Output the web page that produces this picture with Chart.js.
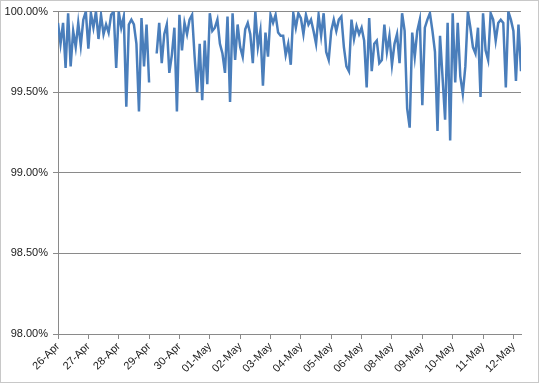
<!DOCTYPE html>
<html>
<head>
<meta charset="utf-8">
<script src="https://cdn.jsdelivr.net/npm/chart.js@4.4.1/dist/chart.umd.min.js"></script>
<style>
  html, body { margin: 0; padding: 0; background: #ffffff; }
  #c { display: block; }
</style>
</head>
<body>
<canvas id="c" width="540" height="385"></canvas>
<script>
// Tick labels (one per day; 07-May is absent in the source)
const dayLabels = ['26-Apr','27-Apr','28-Apr','29-Apr','30-Apr','01-May','02-May','03-May',
                   '04-May','05-May','06-May','08-May','09-May','10-May','11-May','12-May'];
const pointsPerDay = 12;

// Availability (%) readings, in order; null = no data
const availability = [
  99.93, 99.80, 99.93, 99.65, 99.99, 99.66, 99.88, 99.78, 99.93, 99.79, 99.95, 100.0,
  99.77, 99.99, 99.90, 100.0, 99.83, 99.98, 99.86, 99.92, 99.87, 99.98, 100.0, 99.65,
  100.0, 99.90, 99.97, 99.41, 99.92, 99.95, 99.92, 99.80, 99.38, 99.96, 99.66, 99.92,
  99.56, null, null, 99.74, 99.93, 99.68, 99.86, 99.92, 99.62, 99.73, 99.90, 99.38,
  99.98, 99.76, 99.93, 99.86, 99.95, 99.98, 99.72, 99.50, 99.80, 99.45, 99.82, 99.55,
  99.99, 99.88, 99.90, 99.95, 99.80, 99.74, 99.62, 99.97, 99.44, 99.99, 99.70, 99.92,
  99.78, 99.72, 99.89, 99.93, 99.86, 99.68, 100.0, 99.78, 99.88, 99.54, 99.87, 99.72,
  99.98, 99.93, 99.98, 99.87, 99.85, 99.85, 99.73, 99.80, 99.67, 99.99, 99.90, 99.99,
  99.96, 99.86, 99.98, 99.92, 99.95, 99.88, 99.80, 99.98, 99.85, 99.99, 99.75, 99.70,
  99.88, 99.95, 99.88, 99.95, 99.97, 99.78, 99.66, 99.63, 99.95, 99.83, 99.91, 99.86,
  99.90, 99.82, 99.53, 99.96, 99.63, 99.80, 99.82, 99.68, 99.70, 99.92, 99.75, 99.85,
  99.67, 99.80, 99.86, 99.68, 99.99, 99.88, 99.40, 99.28, 99.87, 99.72, 99.88, 99.95,
  99.42, 99.90, 99.95, 99.99, 99.88, 99.75, 99.26, 99.85, 99.59, 99.33, 99.93, 99.20,
  99.99, 99.56, 99.93, 99.60, 99.49, 99.66, 100.0, 99.90, 99.78, 99.74, 99.90, 99.47,
  99.99, 99.76, 99.70, 99.99, 99.95, 99.82, 99.93, 99.95, 99.93, 99.53, 100.0, 99.95,
  99.88, 99.57, 99.92, 99.63
];

const yTicks = [98.0, 98.5, 99.0, 99.5, 100.0];

const points = availability.map((v, i) => ({ x: i, y: v }));

const bgAndBorder = {
  id: 'bgAndBorder',
  beforeDraw(chart) {
    const ctx = chart.ctx;
    ctx.save();
    ctx.fillStyle = '#ffffff';
    ctx.fillRect(0, 0, chart.width, chart.height);
    ctx.restore();
  },
  afterDraw(chart) {
    const ctx = chart.ctx;
    ctx.save();
    ctx.strokeStyle = '#c8c8c8';
    ctx.lineWidth = 1;
    ctx.strokeRect(0.5, 0.5, 538, 382);
    ctx.restore();
  }
};

const gridColor = '#8a8a8a';
const fontSpec = { family: "'Liberation Sans', Arial, sans-serif", size: 11 };

new Chart(document.getElementById('c'), {
  type: 'line',
  data: {
    datasets: [{
      data: points,
      borderColor: '#4a7ebb',
      borderWidth: 2.5,
      pointRadius: 0,
      tension: 0,
      spanGaps: false,
      fill: false
    }]
  },
  options: {
    responsive: false,
    animation: false,
    devicePixelRatio: 1,
    layout: { padding: { top: 11, right: 19, left: 0, bottom: 0 } },
    plugins: { legend: { display: false }, tooltip: { enabled: false } },
    scales: {
      x: {
        type: 'linear',
        min: 0,
        max: availability.length - 1,
        afterFit(s) { s.height = 51; },
        grid: { drawOnChartArea: false, drawTicks: true, tickLength: 5, color: gridColor },
        border: { display: true, color: gridColor, width: 1 },
        ticks: {
          stepSize: pointsPerDay,
          includeBounds: false,
          autoSkip: false,
          maxRotation: 45,
          minRotation: 45,
          padding: 1,
          color: '#1a1a1a',
          font: fontSpec,
          callback(v) {
            const k = v / pointsPerDay;
            return Number.isInteger(k) && dayLabels[k] ? dayLabels[k] : '';
          }
        }
      },
      y: {
        min: yTicks[0],
        max: yTicks[yTicks.length - 1],
        afterFit(s) { s.width = 58; },
        afterBuildTicks(s) { s.ticks = yTicks.map(v => ({ value: v })); },
        grid: { color: gridColor, tickLength: 5, drawTicks: true },
        border: { display: true, color: gridColor, width: 1 },
        ticks: {
          padding: 5,
          color: '#1a1a1a',
          font: fontSpec,
          callback(v) { return v.toFixed(2) + '%'; }
        }
      }
    }
  },
  plugins: [bgAndBorder]
});
</script>
</body>
</html>
